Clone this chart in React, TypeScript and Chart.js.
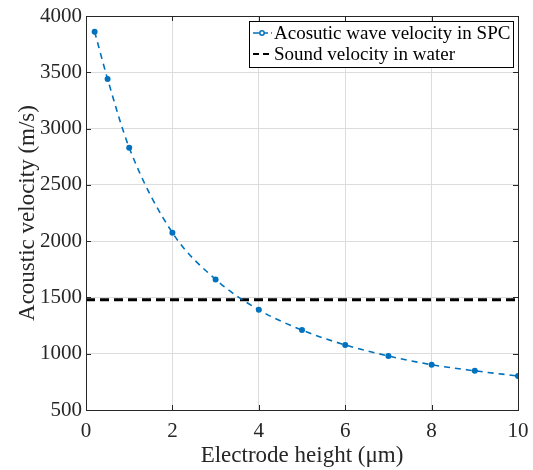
import React, { useEffect, useRef } from "react";
import { Chart, registerables } from "chart.js";

Chart.register(...registerables);

const heights = [0.2, 0.5, 1, 2, 3, 4, 5, 6, 7, 8, 9, 10];
const velocities = [3860, 3440, 2830, 2075, 1660, 1390, 1210, 1078, 980, 902, 848, 802];
const waterVelocity = 1480;
const waterRange = [0, 10];
const seriesLabels = ["Acosutic wave velocity in SPC", "Sound velocity in water"];
const xTitle = "Electrode height (\u03bcm)";
const yTitle = "Acoustic velocity (m/s)";

const BLUE = "#0072BD";
const FONT = "'Liberation Serif', 'Times New Roman', serif";

const framePlugin = {
  id: "frame",
  afterDraw(chart: any) {
    const { ctx, chartArea: a, scales } = chart;
    ctx.save();
    ctx.strokeStyle = "#262626";
    ctx.lineWidth = 1;
    const xs = scales.x, ys = scales.y;
    ctx.beginPath();
    xs.ticks.forEach((t: any) => {
      const p = Math.round(xs.getPixelForValue(t.value)) + 0.5;
      ctx.moveTo(p, a.bottom); ctx.lineTo(p, a.bottom - 5);
      ctx.moveTo(p, a.top); ctx.lineTo(p, a.top + 5);
    });
    ys.ticks.forEach((t: any) => {
      const p = Math.round(ys.getPixelForValue(t.value)) + 0.5;
      ctx.moveTo(a.left, p); ctx.lineTo(a.left + 5, p);
      ctx.moveTo(a.right, p); ctx.lineTo(a.right - 5, p);
    });
    ctx.stroke();
    ctx.strokeRect(Math.round(a.left) + 0.5, Math.round(a.top) + 0.5, Math.round(a.right - a.left), Math.round(a.bottom - a.top));
    // legend
    const lx = Math.round(a.right) - 269, ly = Math.round(a.top) + 5, lw = 264, lh = 46;
    ctx.fillStyle = "#fff";
    ctx.fillRect(lx, ly, lw, lh);
    ctx.strokeStyle = "#000";
    ctx.strokeRect(lx + 0.5, ly + 0.5, lw, lh);
    ctx.font = `19px ${FONT}`;
    ctx.textBaseline = "middle";
    const r1 = ly + 12, r2 = ly + 33;
    ctx.strokeStyle = BLUE; ctx.lineWidth = 1.5; ctx.setLineDash([6, 3]);
    ctx.beginPath(); ctx.moveTo(lx + 4, r1); ctx.lineTo(lx + 23, r1); ctx.stroke();
    ctx.setLineDash([]);
    ctx.beginPath(); ctx.arc(lx + 13, r1, 2.2, 0, Math.PI * 2); ctx.fillStyle = "#fff"; ctx.fill(); ctx.stroke();
    ctx.strokeStyle = "#000"; ctx.lineWidth = 2; ctx.setLineDash([6, 4]);
    ctx.beginPath(); ctx.moveTo(lx + 4, r2); ctx.lineTo(lx + 23, r2); ctx.stroke();
    ctx.setLineDash([]);
    ctx.fillStyle = "#000";
    ctx.fillText(seriesLabels[0], lx + 25, r1 + 1);
    ctx.fillText(seriesLabels[1], lx + 25, r2 + 1);
    ctx.restore();
  },
};

export default function App() {
  const ref = useRef<HTMLCanvasElement>(null);
  useEffect(() => {
    document.body.style.margin = "0";
    const chart = new Chart(ref.current!, {
      type: "line",
      data: {
        datasets: [
          {
            label: seriesLabels[0],
            data: heights.map((h, i) => ({ x: h, y: velocities[i] })),
            borderColor: BLUE,
            borderWidth: 1.6,
            borderDash: [6, 5],
            cubicInterpolationMode: "monotone",
            pointRadius: 2.3,
            pointBorderWidth: 1.4,
            pointBackgroundColor: BLUE,
            pointBorderColor: BLUE,
            fill: false,
          },
          {
            label: seriesLabels[1],
            data: waterRange.map((x) => ({ x, y: waterVelocity })),
            borderColor: "#000",
            borderWidth: 3,
            borderDash: [9, 5],
            pointRadius: 0,
            fill: false,
          },
        ],
      },
      options: {
        animation: false,
        responsive: false,
        layout: { padding: { left: 0, right: 15, top: 16, bottom: 0 } },
        plugins: { legend: { display: false }, tooltip: { enabled: false } },
        scales: {
          x: {
            type: "linear",
            min: 0,
            max: 10,
            ticks: { stepSize: 2, color: "#262626", font: { family: FONT, size: 21 }, padding: 9, maxRotation: 0, callback: (v: any) => String(v) },
            grid: { color: "#dcdcdc", drawTicks: false },
            border: { display: false },
            title: { display: true, text: xTitle, color: "#262626", font: { family: FONT, size: 23 }, padding: { top: 0, bottom: 0 } },
            afterFit: (s: any) => { s.height = 60; s.paddingRight = 0; s.paddingLeft = 0; },
          },
          y: {
            min: 500,
            max: 4000,
            ticks: { stepSize: 500, color: "#262626", font: { family: FONT, size: 21 }, padding: 4, callback: (v: any) => String(v) },
            grid: { color: "#dcdcdc", drawTicks: false },
            border: { display: false },
            title: { display: true, text: yTitle, color: "#262626", font: { family: FONT, size: 23 }, padding: { top: 14, bottom: 0 } },
            afterFit: (s: any) => { s.width = 86; s.paddingTop = 0; s.paddingBottom = 0; },
          },
        },
      },
      plugins: [framePlugin],
    } as any);
    return () => chart.destroy();
  }, []);
  return <canvas ref={ref} width={533} height={470} style={{ display: "block" }} />;
}
